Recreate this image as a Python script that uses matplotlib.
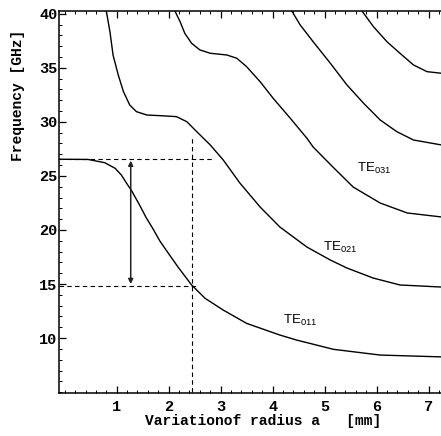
import matplotlib
matplotlib.use("Agg")
import matplotlib.pyplot as plt
from matplotlib.ticker import MultipleLocator

# curvas (radio a [mm], frecuencia [GHz])
te011_x = [-0.11, 0.45, 0.77, 0.97, 1.09, 1.19, 1.29, 1.45, 1.56, 1.70, 1.83, 1.99, 2.18,
           2.44, 2.70, 3.05, 3.50, 4.14, 4.46, 5.17, 6.07, 7.25]
te011_y = [26.54, 26.52, 26.22, 25.70, 25.08, 24.32, 23.60, 22.22, 21.20, 20.09, 18.98, 17.87,
           16.57, 14.92, 13.68, 12.59, 11.36, 10.28, 9.82, 8.96, 8.43, 8.26]

te021_x = [0.80, 0.87, 0.93, 1.03, 1.13, 1.25, 1.38, 1.58, 1.83, 2.15, 2.35, 2.54, 2.80,
           3.05, 3.37, 3.76, 4.14, 4.66, 5.11, 5.43, 5.93, 6.45, 7.25]
te021_y = [40.25, 38.34, 36.18, 34.33, 32.79, 31.56, 30.94, 30.63, 30.57, 30.48, 30.01, 29.09,
           27.86, 26.47, 24.34, 22.12, 20.27, 18.42, 17.22, 16.48, 15.56, 14.91, 14.72]

te031_x = [2.12, 2.22, 2.31, 2.44, 2.60, 2.80, 3.12, 3.31, 3.50, 3.76, 4.01, 4.34, 4.66,
           4.78, 5.16, 5.55, 6.07, 6.59, 7.25]
te031_y = [40.25, 39.26, 38.19, 37.27, 36.65, 36.34, 36.18, 35.88, 35.10, 33.71, 32.18, 30.33,
           28.48, 27.67, 25.82, 23.97, 22.49, 21.57, 21.20]

te041_x = [4.37, 4.53, 4.78, 5.11, 5.43, 5.75, 6.07, 6.39, 6.71, 7.25]
te041_y = [40.25, 38.96, 37.41, 35.42, 33.41, 31.72, 30.17, 29.09, 28.32, 27.86]

te051_x = [5.72, 5.94, 6.20, 6.45, 6.71, 6.97, 7.25]
te051_y = [40.25, 38.80, 37.41, 36.34, 35.26, 34.64, 34.49]

curvas = [(te011_x, te011_y), (te021_x, te021_y), (te031_x, te031_y),
          (te041_x, te041_y), (te051_x, te051_y)]

etiquetas = [r"$\mathregular{TE_{011}}$", r"$\mathregular{TE_{021}}$", r"$\mathregular{TE_{031}}$"]
etiqueta_x = [4.20, 4.97, 5.62]
etiqueta_y = [11.67, 18.42, 25.73]

# líneas auxiliares
f_alta = 26.54
f_baja = 14.84
a_corte = 2.44
flecha_x = 1.27
flecha_y = (26.41, 15.0)

x_ticks = [1, 2, 3, 4, 5, 6, 7]
y_ticks = [10, 15, 20, 25, 30, 35, 40]

fig = plt.figure(figsize=(4.41, 4.36), dpi=100)
ax = fig.add_axes([0.1338, 0.0986, 0.8662, 0.8762])

for cx, cy in curvas:
    ax.plot(cx, cy, color="black", lw=1.0, solid_joinstyle="round")

for txt, tx, ty in zip(etiquetas, etiqueta_x, etiqueta_y):
    ax.text(tx, ty, txt, fontsize=9.5, family="Liberation Sans", ha="left", va="center")

x0 = -0.11
estilo = dict(color="black", lw=0.8, dashes=(4, 3))
ax.plot([x0, 2.85], [f_alta, f_alta], **estilo)
ax.plot([x0, 2.56], [f_baja, f_baja], **estilo)
ax.plot([a_corte, a_corte], [5, 28.5], **estilo)

ax.annotate("", xy=(flecha_x, flecha_y[0]), xytext=(flecha_x, flecha_y[1]),
            arrowprops=dict(arrowstyle="<|-|>", color="#222222", lw=1.1,
                            mutation_scale=7, shrinkA=0, shrinkB=0))

ax.set_xlim(x0, 7.24)
ax.set_ylim(4.92, 40.25)
ax.spines["right"].set_visible(False)
for s in ["left", "bottom", "top"]:
    ax.spines[s].set_linewidth(1.1)

ax.set_xticks(x_ticks)
ax.set_yticks(y_ticks)
ax.xaxis.set_minor_locator(MultipleLocator(0.2))
ax.yaxis.set_minor_locator(MultipleLocator(1))
ax.tick_params(which="both", direction="in", top=True, right=False)
ax.tick_params(which="major", length=5, width=0.9)
ax.tick_params(which="minor", length=2.5, width=0.7)
ax.tick_params(axis="x", pad=5)
ax.tick_params(axis="y", pad=1)
for lab in ax.get_xticklabels() + ax.get_yticklabels():
    lab.set_family("Liberation Mono")
    lab.set_fontweight("bold")
    lab.set_fontsize(11)

fig.text(263 / 441, 1 - 421 / 436, "Variationof radius a   [mm]", family="Liberation Mono",
         fontweight="bold", fontsize=10.5, ha="center", va="center")
fig.text(18 / 441, 1 - 95 / 436, "Frequency [GHz]", family="Liberation Mono",
         fontweight="bold", fontsize=10.5, ha="center", va="center", rotation=90)

fig.savefig("out.png", dpi=100)
